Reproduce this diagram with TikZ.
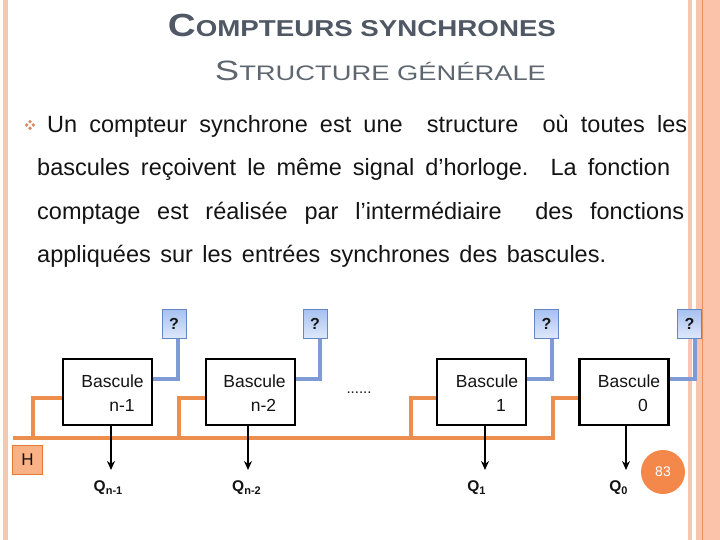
\documentclass[tikz,border=0pt]{standalone}
\usepackage{fontspec}
\setmainfont{Liberation Sans}
\usetikzlibrary{arrows.meta,calc}
\definecolor{lsalmon}{HTML}{F6C6B2}
\definecolor{salmon}{HTML}{FBC3AA}
\definecolor{dorange}{HTML}{E8905F}
\definecolor{titlegray}{HTML}{4F5864}
\definecolor{subgray}{HTML}{5E6670}
\definecolor{bodyblack}{HTML}{141414}
\definecolor{bulletc}{HTML}{D4875A}
\definecolor{clkorange}{HTML}{EC8F4E}
\definecolor{fbblue}{HTML}{7F9BD6}
\definecolor{qborder}{HTML}{6586C8}
\definecolor{qtop}{HTML}{A6C0F0}
\definecolor{qbot}{HTML}{DDE8FB}
\definecolor{hfill}{HTML}{F8B286}
\definecolor{hborder}{HTML}{E27A36}
\definecolor{pagec}{HTML}{F4884A}
\tikzset{
 bbox/.style={draw=black, line width=2.6pt, fill=white, minimum width=89pt, minimum height=66pt, inner sep=0pt},
 qbox/.style={draw=qborder, line width=1pt, top color=qtop, bottom color=qbot, minimum width=24pt, minimum height=29pt, inner sep=0pt, font=\fontsize{16}{16}\selectfont\bfseries, text=bodyblack},
 clk/.style={draw=clkorange, line width=3.5pt},
 fb/.style={draw=fbblue, line width=3.5pt},
 outarr/.style={draw=black, line width=1.6pt, -{Stealth[length=9pt,width=8pt]}},
 btxt/.style={font=\fontsize{17.5}{18}\selectfont, anchor=base, inner sep=0pt, text=bodyblack},
 qlab/.style={font=\fontsize{15.5}{16}\selectfont\bfseries, anchor=base, inner sep=0pt, text=bodyblack},
 body/.style={font=\fontsize{23.5}{24}\selectfont, anchor=base west, inner sep=0pt, text=bodyblack},
}
\newcommand{\qsub}[1]{Q\raisebox{-3.5pt}{\fontsize{11}{11}\selectfont\bfseries #1}}
\begin{document}
\begin{tikzpicture}[x=1pt,y=-1pt]
\useasboundingbox (0,0) rectangle (720,540);
\fill[white] (0,0) rectangle (720,540);
% page borders
\fill[lsalmon] (3,0) rectangle (8,540);
\fill[lsalmon] (688,0) rectangle (692,540);
\fill[salmon] (696,0) rectangle (720,540);
\draw[dorange, line width=1.2pt] (702.5,0) -- (702.5,540);
% titles
\node[anchor=base, inner sep=0pt, text=titlegray] (title) at (362,37)
  {\resizebox{388pt}{\height}{\bfseries\fontsize{32}{32}\selectfont C\fontsize{23}{23}\selectfont OMPTEURS SYNCHRONES}};
\node[anchor=base, inner sep=0pt, text=subgray] (subtitle) at (380.5,81)
  {\resizebox{331pt}{\height}{\fontsize{28}{28}\selectfont S\fontsize{21}{21}\selectfont TRUCTURE GÉNÉRALE}};
% bullet
\foreach \dx/\dy in {0/-3.3,-3.3/0,3.3/0,0/3.3}
  \fill[bulletc] (30+\dx,125+\dy) circle (1.8);
% body text
\node[body] (l1) at (47,133) {\makebox[640pt][s]{Un compteur synchrone est une\ \ structure\ \ où toutes les}};
\node[body] (l2) at (37,176) {\makebox[633pt][s]{bascules reçoivent le même signal d’horloge. La fonction}};
\node[body] (l3) at (37,219) {\makebox[647pt][s]{comptage est réalisée par l’intermédiaire\ \ des fonctions}};
\node[body] (l4) at (37,262) {\makebox[569pt][s]{appliquées sur les entrées synchrones des bascules.}};
% question boxes
\node[qbox] (q1) at (174,323.5) {?};
\node[qbox] (q2) at (315,323.5) {?};
\node[qbox] (q3) at (546.5,323.5) {?};
\node[qbox] (q4) at (689.5,323.5) {?};
% bascule boxes
\node[bbox] (b1) at (107.5,392) {};
\node[bbox] (b2) at (250.5,392) {};
\node[bbox] (b3) at (481.5,392) {};
\node[bbox] (b4) at (624,392) {};
\node[btxt] (b1a) at (112.5,387) {Bascule};
\node[btxt] (b1b) at (122,411) {n-1};
\node[btxt] (b2a) at (254.5,387) {Bascule};
\node[btxt] (b2b) at (263.5,411) {n-2};
\node[btxt] (b3a) at (487,387) {Bascule};
\node[btxt] (b3b) at (501,411) {1};
\node[btxt] (b4a) at (629,387) {Bascule};
\node[btxt] (b4b) at (643,411) {0};
\node[font=\fontsize{15}{15}\selectfont, inner sep=0pt, text=bodyblack] (dots) at (359,393) {......};
% feedback lines
\draw[fb] (q1.south -| 178,0) |- ($(b1.east)+(0,-13)$);
\draw[fb] (q2.south -| 320,0) |- ($(b2.east)+(0,-13)$);
\draw[fb] (q3.south -| 552,0) |- ($(b3.east)+(0,-13)$);
\draw[fb] (q4.south -| 695,0) |- ($(b4.east)+(0,-13)$);
% clock
\node[draw=hborder, line width=1.5pt, fill=hfill, minimum width=30pt, minimum height=29pt, inner sep=0pt, font=\fontsize{17}{17}\selectfont, text=bodyblack] (H) at (27.5,460) {H};
\coordinate (hstart) at (13,438);
\coordinate (hend) at (553,438);
\draw[clk] (hstart) -- (hend) |- ($(b4.west)+(0,6)$);
\draw[clk] (33,438) |- ($(b1.west)+(0,6)$);
\draw[clk] (179,438) |- ($(b2.west)+(0,6)$);
\draw[clk] (411,438) |- ($(b3.west)+(0,6)$);
% outputs
\node[qlab] (o1) at (108,491) {\qsub{n-1}};
\node[qlab] (o2) at (246.5,491) {\qsub{n-2}};
\node[qlab] (o3) at (476.5,491) {\qsub{1}};
\node[qlab] (o4) at (618.5,491) {\qsub{0}};
\draw[outarr] (b1.south -| 111,0) -- (111,470);
\draw[outarr] (b2.south -| 248,0) -- (248,470);
\draw[outarr] (b3.south -| 485,0) -- (485,470);
\draw[outarr] (b4.south -| 626,0) -- (626,470);
% page number
\node[circle, fill=pagec, minimum size=44pt, inner sep=0pt, text=white, font=\fontsize{14}{14}\selectfont] (page) at (663,472) {83};
\end{tikzpicture}
\end{document}
